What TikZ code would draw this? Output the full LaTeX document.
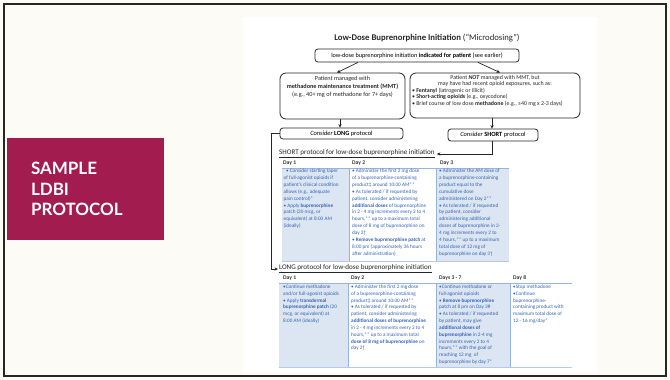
\documentclass[tikz,border=0pt]{standalone}
\usepackage{fontspec}
\setmainfont{Carlito}
\newfontfamily\latofont{Lato}
\usetikzlibrary{arrows.meta, positioning}
\definecolor{tagRed}{RGB}{163,28,80}
\definecolor{cellBlue}{RGB}{220,230,242}
\definecolor{cellText}{RGB}{52,98,178}
\definecolor{cellRule}{RGB}{150,180,220}
\definecolor{slideBg}{RGB}{253,251,246}
\tikzstyle{fFlowBox} = [rectangle, rounded corners=3pt, draw=black!85, line width=0.8pt, fill=white, inner sep=0pt]
\tikzstyle{fRoundBox} = [rectangle, rounded corners=6pt, draw=black!85, line width=0.8pt, fill=white, inner sep=0pt]
\tikzstyle{fFlowText} = [inner sep=0pt, align=center, text=black!85, font=\fontsize{6.2}{8}\selectfont]
\tikzstyle{fArrow} = [line width=0.7pt, black!85, -{Stealth[length=3.5pt,width=3.2pt]}]
\tikzstyle{fHeading} = [anchor=west, inner sep=0pt, text=black!85, font=\fontsize{7.1}{8}\selectfont]
\tikzstyle{fDay} = [anchor=west, inner sep=0pt, text=black!80, font=\fontsize{5.6}{6}\selectfont\bfseries]
\tikzstyle{fCell} = [anchor=north west, inner sep=0pt, align=left, text=cellText, font=\fontsize{5.2}{6.85}\selectfont]
\tikzstyle{fTag} = [rectangle, fill=tagRed, text=white, align=left, text width=109pt, inner xsep=24pt, minimum height=102pt, font=\latofont\bfseries\fontsize{17}{20.5}\selectfont]

\begin{document}
\begin{tikzpicture}[x=1pt, y=-1pt]
    % slide
    \fill[slideBg] (0,0) rectangle (670,380);
    \useasboundingbox (0,0) rectangle (670,380);
    \fill[white] (243,17) rectangle (597,372);
    \draw[black!85, line width=1.6pt] (4,4) rectangle (666,376);
    \node (sampletag) [fTag] at (85.5,189) {SAMPLE\\LDBI\\PROTOCOL};

    % flow chart
    \node (title) [inner sep=0pt, text=black!85, font=\fontsize{8.7}{10}\selectfont] at (427,38) {\textbf{Low-Dose Buprenorphine Initiation} (“Microdosing”)};
    \node (lowdose) [fFlowBox, minimum width=204pt, minimum height=13pt, font=\fontsize{6.2}{7}\selectfont] at (417,55.5) {low-dose buprenorphine initiation \textbf{indicated for patient} (see earlier)};
    \node (mmtbox) [fRoundBox, minimum width=125pt, minimum height=46pt] at (342.5,96) {};
    \node (mmttext) [fFlowText, below=3.5pt of mmtbox.north] {Patient managed with\\\textbf{methadone maintenance treatment (MMT)}\\(e.g., 40+ mg of methadone for 7+ days)};
    \node (notmmtbox) [fRoundBox, minimum width=170pt, minimum height=45pt] at (495,95.5) {};
    \node (notmmttext) [fFlowText, below=2.5pt of notmmtbox.north, font=\fontsize{5.9}{6.5}\selectfont] {Patient \textit{\textbf{NOT}} managed with MMT, but\\may have had recent opioid exposures, such as:\\
        \makebox[166pt][l]{• \textbf{Fentanyl} (iatrogenic or illicit)}\\
        \makebox[166pt][l]{• \textbf{Short-acting opioids} (e.g., oxycodone)}\\
        \makebox[166pt][l]{• Brief course of low dose \textbf{methadone} (e.g., ≤40 mg x 2-3 days)}};
    \node (longbox) [fFlowBox, minimum width=123pt, minimum height=11pt, font=\fontsize{6.4}{7}\selectfont] at (341.5,133.5) {\textit{Consider} \textbf{LONG} protocol};
    \node (shortbox) [fFlowBox, minimum width=90pt, minimum height=12pt, font=\fontsize{6.4}{7}\selectfont] at (493,135) {\textit{Consider} \textbf{SHORT} protocol};

    \node (shorthead) [fHeading] at (279,154) {\underline{SHORT protocol for low-dose buprenorphine initiation}};
    \node (longhead) [fHeading] at (279,269) {\underline{LONG protocol for low-dose buprenorphine initiation}};

    \draw [fArrow] ([xshift=-59pt]lowdose.south) -- ([xshift=-5.5pt]mmtbox.north);
    \draw [fArrow] ([xshift=61pt]lowdose.south) -- ([xshift=5pt]notmmtbox.north);
    \draw [fArrow] ([xshift=-2.5pt]mmtbox.south) -- ([xshift=-1.5pt]longbox.north);
    \draw [fArrow] ([xshift=-3pt]notmmtbox.south) -- ([xshift=-1pt]shortbox.north);
    \draw [fArrow] ([xshift=-1pt]shortbox.south) |- ([xshift=2pt]shorthead.east);
    \draw [fArrow] (longbox.west) -- ++(-8,0) |- ([xshift=-1pt]longhead.west);

    % short protocol table
    \fill[cellBlue] (282,168) rectangle (349,261);
    \fill[cellBlue] (436,168) rectangle (509,261);
    \draw[cellRule, line width=0.4pt] (349,168) -- (349,261) (436,168) -- (436,261);
    \draw[cellRule, line width=1pt] (282,168) -- (509,168);
    \draw[cellRule!70, line width=0.6pt] (282,261) -- (509,261);
    \node (sday1) [fDay] at (283,163) {Day 1};
    \node (sday2) [fDay] at (352,163) {Day 2};
    \node (sday3) [fDay] at (440,163) {Day 3};
    \node (scell1) [fCell] at (283.5,169) {\ \ • Consider starting taper\\of full-agonist opioids if\\patient’s clinical condition\\allows (e.g., adequate\\pain control)*\\• Apply \textbf{buprenorphine}\\patch (20 mcg, or\\equivalent) at 8:00 AM\\(ideally)};
    \node (scell2) [fCell] at (352,169) {• Administer the first 2 mg dose\\of a buprenorphine-containing\\product‡ around 10:00 AM**\\• As tolerated / if requested by\\patient, consider administering\\\textbf{additional doses} of buprenorphine\\in 2 - 4 mg increments every 2 to 4\\hours,** up to a maximum total\\dose of 8 mg of buprenorphine on\\day 2†\\• \textbf{Remove buprenorphine patch} at\\8:00 pm (approximately 36 hours\\after administration)};
    \node (scell3) [fCell] at (439,169) {• Administer the AM dose of\\a buprenorphine-containing\\product equal to the\\cumulative dose\\administered on Day 2**\\• As tolerated / if requested\\by patient, consider\\administering additional\\doses of buprenorphine in 2-\\4 mg increments every 2 to\\4 hours,** up to a maximum\\total dose of 12 mg of\\buprenorphine on day 3†};

    % long protocol table
    \fill[cellBlue] (279,283) rectangle (348,367);
    \fill[cellBlue] (436,283) rectangle (510,367);
    \draw[cellRule, line width=0.4pt] (348,283) -- (348,367) (436,283) -- (436,367) (510,283) -- (510,367);
    \draw[cellRule, line width=1pt] (279,283) -- (572,283);
    \draw[cellRule!70, line width=0.6pt] (279,367) -- (572,367);
    \node (lday1) [fDay] at (283,278) {Day 1};
    \node (lday2) [fDay] at (351,278) {Day 2};
    \node (lday3) [fDay] at (439,278) {Days 3 - 7};
    \node (lday8) [fDay] at (513,278) {Day 8};
    \node (lcell1) [fCell] at (283,284.5) {•Continue methadone\\and/or full-agonist opioids\\• Apply \textbf{transdermal}\\\textbf{buprenorphine patch} (20\\mcg, or equivalent) at\\8:00 AM (ideally)};
    \node (lcell2) [fCell] at (351,284.5) {• Administer the first 2 mg dose\\of a buprenorphine-containing\\product‡ around 10:00 AM**\\• As tolerated / if requested by\\patient, consider administering\\\textbf{additional doses of buprenorphine}\\in 2 - 4 mg increments every 2 to 4\\hours,** up to a maximum total\\\textbf{dose of 8 mg of buprenorphine} on\\day 2†};
    \node (lcell3) [fCell] at (439,284.5) {•Continue methadone or\\full-agonist opioids\\• \textbf{Remove buprenorphine}\\patch at 8 pm on Day 3\#\\• As tolerated / if requested\\by patient, may give\\\textbf{additional doses of}\\\textbf{buprenorphine} in 2-4 mg\\increments every 2 to 4\\hours,** with the goal of\\reaching 12 mg\ \ of\\buprenorphine by day 7*};
    \node (lcell4) [fCell] at (513,284.5) {•Stop methadone\\•Continue\\buprenorphine-\\containing product with\\maximum total dose of\\12 - 16 mg/day*};
\end{tikzpicture}
\end{document}
